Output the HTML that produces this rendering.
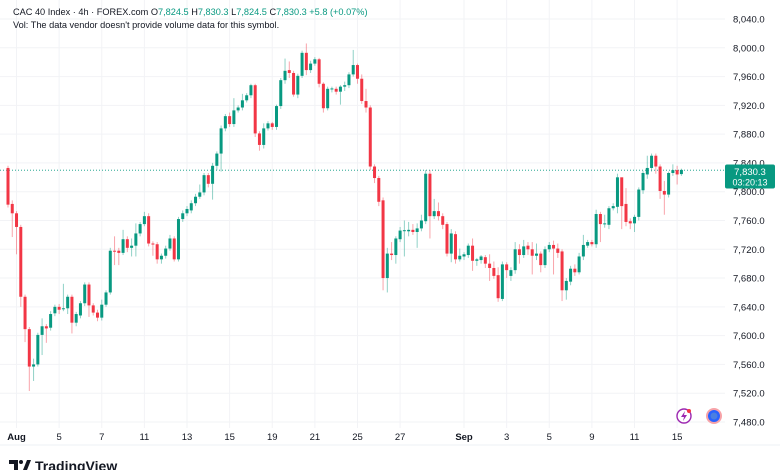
<!DOCTYPE html>
<html><head><meta charset="utf-8"><style>
html,body{margin:0;padding:0;background:#fff;width:780px;height:470px;overflow:hidden;font-family:"Liberation Sans",sans-serif;}
svg{position:absolute;left:0;top:0;}
</style></head><body>
<svg id="chart" width="780" height="470" viewBox="0 0 780 470">
  <g id="grid"></g>
  <g id="xlabels" font-size="9.5" fill="#131722"></g>
  <g id="ylabels" font-size="9.5" fill="#131722"></g>
  <line x1="0" y1="170.2" x2="725" y2="170.2" stroke="#089981" stroke-width="0.8" stroke-dasharray="1,2"/>
  <g id="candles"></g>
  <g>
    <rect x="725" y="164.5" width="50" height="24" rx="2" fill="#089981"/>
    <text x="750" y="175" text-anchor="middle" font-size="9.5" fill="#fff">7,830.3</text>
    <text x="750" y="185.5" text-anchor="middle" font-size="9" fill="#fff">03:20:13</text>
  </g>
  <g font-size="9.2">
    <text x="13" y="15" fill="#131722">CAC 40 Index · 4h · FOREX.com <tspan fill="#131722">O</tspan><tspan fill="#089981">7,824.5</tspan> <tspan fill="#131722">H</tspan><tspan fill="#089981">7,830.3</tspan> <tspan fill="#131722">L</tspan><tspan fill="#089981">7,824.5</tspan> <tspan fill="#131722">C</tspan><tspan fill="#089981">7,830.3</tspan> <tspan fill="#089981">+5.8 (+0.07%)</tspan></text>
    <text x="13" y="28" fill="#131722">Vol: The data vendor doesn't provide volume data for this symbol.</text>
  </g>
  <g>
    <circle cx="684" cy="416" r="7" fill="#fff" stroke="#9c27b0" stroke-width="1.4"/>
    <path d="M685 411 L681 417 L684 417 L683 421 L687 415 L684 415 Z" fill="#9c27b0"/>
    <circle cx="689" cy="411" r="2" fill="#f23645"/>
  </g>
  <g>
    <circle cx="714" cy="416" r="8" fill="#f7a3a8"/>
    <circle cx="714" cy="416" r="6" fill="#2962ff"/>
    <circle cx="714" cy="416" r="3.5" fill="#4b7fe0"/>
  </g>
  <line x1="0" y1="445" x2="780" y2="445" stroke="#eef0f4" stroke-width="1"/>
  <g>
    <path d="M9 460 h9 v10 h-4 v-6 h-5 z" fill="#131722"/>
    <circle cx="21" cy="462" r="2" fill="#131722"/>
    <path d="M23 470 L27 460 H31 L27 470 Z" fill="#131722"/>
    <text x="35" y="471" font-size="14" font-weight="bold" fill="#131722">TradingView</text>
  </g>
</svg>
<script>
const opens=[7833,7783,7770,7751,7654,7609,7557,7560,7601,7613,7611,7631,7640,7637,7638,7654,7618,7628,7645,7671,7642,7632,7625,7643,7660,7718,7718,7715,7734,7722,7725,7742,7755,7766,7728,7727,7706,7711,7721,7735,7706,7762,7770,7774,7784,7793,7799,7823,7811,7836,7853,7888,7905,7894,7913,7917,7927,7934,7948,7881,7865,7888,7895,7890,7919,7955,7969,7965,7935,7961,7993,7969,7978,7984,7950,7916,7943,7943,7939,7946,7948,7963,7976,7957,7926,7917,7835,7819,7788,7680,7714,7712,7734,7746,7745,7747,7744,7749,7759,7825,7766,7773,7766,7755,7714,7741,7706,7710,7712,7725,7704,7705,7709,7700,7694,7684,7651,7699,7683,7691,7720,7712,7725,7720,7711,7714,7698,7720,7726,7721,7717,7663,7675,7693,7688,7710,7725,7730,7727,7769,7755,7754,7777,7779,7820,7783,7759,7756,7765,7802,7824,7833,7850,7835,7801,7796,7826,7830,7824.5];
const closes=[7782,7770,7751,7654,7609,7557,7560,7601,7613,7610,7630,7640,7636,7638,7654,7618,7630,7645,7671,7642,7632,7625,7643,7660,7718,7717,7715,7734,7722,7725,7742,7755,7766,7728,7727,7706,7711,7721,7735,7706,7762,7770,7776,7784,7793,7799,7823,7811,7836,7853,7888,7905,7894,7913,7917,7927,7934,7948,7881,7865,7888,7895,7890,7919,7955,7968,7965,7935,7961,7993,7969,7978,7984,7950,7916,7943,7943.5,7939,7946,7948,7963,7976,7957,7926,7917,7835,7819,7786,7680,7714,7712,7735,7746,7746.5,7747,7744,7749,7760,7825,7766,7773,7766,7754,7714,7742,7706,7711,7713,7725,7704,7706,7710,7700,7694,7683,7652,7699,7691,7691,7720,7712,7724,7720,7711,7714,7698,7720,7726,7721,7715,7663,7676,7693,7688,7710,7726,7730,7727,7769,7755,7756,7777,7780,7820,7780,7758,7756,7765,7803,7826,7833,7850,7835,7801,7796,7826,7830,7824,7830.3];
const highs=[7836,7788,7773,7754,7657,7612,7568,7604,7624,7616,7634,7643,7644,7672,7657,7657,7633,7648,7674,7674,7645,7636,7650,7663,7722,7738,7722,7747,7738,7735,7756,7758,7772,7770,7731,7730,7714,7725,7740,7738,7765,7774,7780,7788,7797,7810,7826,7826,7840,7856,7892,7908,7910,7930,7920,7936,7937,7950,7950,7884,7895,7898,7897,7921,7958,7985,7981,7968,7964,7996,8006,7982,7987,7986,7952,7946,7946,7946,7948,7953,7966,7997,7978,7963,7943,7920,7838,7822,7792,7722,7730,7738,7751,7760,7758,7755,7756,7768,7830,7830,7790,7785,7770,7758,7748,7745,7721,7716,7728,7735,7708,7712,7712,7713,7703,7695,7703,7702,7695,7730,7727,7733,7730,7730,7728,7717,7724,7730,7732,7728,7720,7680,7697,7699,7715,7740,7733,7733,7775,7772,7768,7780,7784,7825,7816,7805,7763,7768,7806,7829,7850,7853,7853,7838,7815,7828,7838,7836,7832];
const lows=[7778,7737,7713,7640,7591,7523,7537,7557,7573,7590,7607,7627,7630,7634,7630,7603,7613,7624,7641,7626,7628,7620,7621,7640,7657,7698,7698,7712,7716,7710,7710,7738,7752,7724,7711,7700,7700,7707,7718,7703,7703,7758,7766,7770,7780,7790,7795,7806,7789,7830,7828,7884,7890,7890,7910,7913,7924,7930,7876,7857,7860,7885,7886,7886,7915,7950,7958,7932,7930,7958,7962,7965,7975,7945,7910,7913,7938,7935,7921,7940,7944,7960,7950,7922,7910,7830,7812,7780,7663,7660,7705,7700,7730,7710,7738,7740,7722,7745,7755,7735,7762,7760,7748,7710,7702,7700,7703,7705,7708,7690,7697,7700,7694,7676,7679,7647,7648,7680,7676,7686,7700,7708,7712,7685,7705,7688,7694,7716,7685,7708,7648,7650,7670,7683,7685,7705,7722,7724,7722,7730,7750,7748,7774,7770,7748,7752,7748,7744,7760,7797,7818,7828,7825,7790,7768,7792,7822,7810,7822];
const yTicks=[8040,8000,7960,7920,7880,7840,7800,7760,7720,7680,7640,7600,7560,7520,7480];
const xTickLabels=["Aug","5","7","11","13","15","19","21","25","27","Sep","3","5","9","11","15"];
const xTickIndex=[2,12,22,32,42,52,62,72,82,92,107,117,127,137,147,157];

const NS='http://www.w3.org/2000/svg';
function xFor(i){return 8+i*4.262;}
function yFor(p){return 19+(8040-p)*0.7196;}
function mk(tag,attrs,parent){const e=document.createElementNS(NS,tag);for(const k in attrs)e.setAttribute(k,attrs[k]);parent.appendChild(e);return e;}

const grid=document.getElementById('grid');
const yl=document.getElementById('ylabels');
yTicks.forEach(v=>{
  const y=yFor(v);
  const l=mk('line',{x1:0,x2:725,y1:y,y2:y,stroke:'#f2f3f6','stroke-width':1},grid);
  
  
  const t=mk('text',{x:733,y:y+3.5},yl);
  
  
  t.textContent=v.toLocaleString('en-US',{minimumFractionDigits:1,maximumFractionDigits:1});
});
const xl=document.getElementById('xlabels');
xTickLabels.forEach((lab,k)=>{
  const x=xFor(xTickIndex[k]);
  const l=mk('line',{x1:x,x2:x,y1:0,y2:428,stroke:'#f2f3f6','stroke-width':1},grid);
  
  
  const t=mk('text',{x:x,y:440,'text-anchor':'middle'},xl);
  if(lab==='Aug'||lab==='Sep')t.setAttribute('font-weight','bold');
  
  
  t.textContent=lab;
});
const cg=document.getElementById('candles');
opens.forEach((o,i)=>{
  const c=closes[i];
  const up=c>=o;
  const col=up?'#089981':'#f23645';
  const x=xFor(i);
  const w=mk('line',{x1:x,x2:x,y1:yFor(highs[i]),y2:yFor(lows[i]),stroke:col,'stroke-width':1,'stroke-opacity':0.45},cg);
  
  
  const top=yFor(Math.max(o,c)),bot=yFor(Math.min(o,c));
  const b=mk('rect',{x:x-1.5,y:top,width:3,height:Math.max(1,bot-top),fill:col},cg);
  
  
});
</script>
</body></html>
